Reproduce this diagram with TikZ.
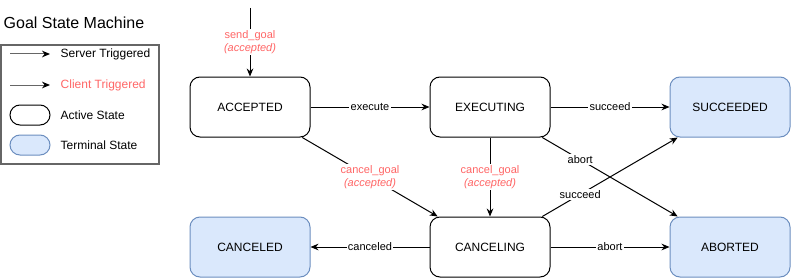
\documentclass[tikz,border=0pt]{standalone}
\usepackage{fontspec}
\setmainfont{Liberation Sans}
\usetikzlibrary{arrows.meta,positioning}

\begin{document}
\begin{tikzpicture}[x=0.75pt, y=-0.75pt]
		% Colores
		\definecolor{clientred}{RGB}{255, 102, 102} % Etiquetas del cliente
		\definecolor{termfill}{RGB}{218, 232, 252} % Relleno de estados terminales
		\definecolor{termborder}{RGB}{108, 142, 191} % Borde de estados terminales
		\definecolor{legendgray}{RGB}{102, 102, 102} % Marco de la leyenda
		
		\tikzset{
			state/.style={draw, rounded corners=7.5pt, minimum width=90pt, minimum height=45pt, line width=0.75pt, font=\fontsize{9}{11}\selectfont},
			terminal/.style={state, draw=termborder, fill=termfill},
			trans/.style={-{Stealth[length=6pt, width=5pt]}, line width=0.75pt},
			lbl/.style={fill=white, inner sep=1pt, font=\fontsize{8.25}{9.5}\selectfont},
			clientlbl/.style={lbl, text=clientred, align=center},
			legendtext/.style={anchor=west, font=\fontsize{9}{11}\selectfont},
			pill/.style={draw, rounded corners=7.5pt, minimum width=30pt, minimum height=15pt, line width=0.75pt}
		}
		
		% Marco de la imagen
		\useasboundingbox (0,0) rectangle (791,278);
		
		% --- Titulo ---
		\node[anchor=west, font=\fontsize{12}{14}\selectfont] (title) at (-1,23) {Goal State Machine};
		
		% --- Leyenda ---
		\draw[legendgray, line width=1.5pt] (1,45) rectangle (159,164);
		\coordinate (srvA) at (10,54);
		\coordinate (srvB) at (50,54);
		\coordinate (cliA) at (10,85);
		\coordinate (cliB) at (50,85);
		\draw[legendgray, line width=0.75pt, -{Stealth[length=6pt, width=5pt, black]}] (srvA) -- (srvB);
		\draw[legendgray, line width=0.75pt, -{Stealth[length=6pt, width=5pt, black]}] (cliA) -- (cliB);
		\node[legendtext] (srvtext) at (56,54) {Server Triggered};
		\node[legendtext, text=clientred] (clitext) at (56,85) {Client Triggered};
		\node[pill] (activekey) at (30,115) {};
		\node[pill, draw=termborder, fill=termfill] (termkey) at (30,145) {};
		\node[legendtext] (activetext) at (56,115) {Active State};
		\node[legendtext] (termtext) at (56,145) {Terminal State};
		
		% --- Estados ---
		\node[state] (accepted) at (250,107) {ACCEPTED};
		\node[state] (executing) at (490,107) {EXECUTING};
		\node[terminal] (succeeded) at (730,107) {SUCCEEDED};
		\node[terminal] (canceled) at (250,247) {CANCELED};
		\node[state] (canceling) at (490,247) {CANCELING};
		\node[terminal] (aborted) at (730,247) {ABORTED};
		
		% --- Transiciones ---
		\coordinate (start) at (250,8);
		\draw[trans] (start) -- (accepted) node[clientlbl, midway] {send\_goal\\\textit{(accepted)}};
		\draw[trans] (accepted) -- (executing) node[lbl, midway] {execute};
		\draw[trans] (executing) -- (succeeded) node[lbl, midway] {succeed};
		\draw[trans] (accepted) -- (canceling) node[clientlbl, midway] {cancel\_goal\\\textit{(accepted)}};
		\draw[trans] (executing) -- (canceling) node[clientlbl, midway] {cancel\_goal\\\textit{(accepted)}};
		\draw[trans] (executing) -- (aborted) node[lbl, pos=0.28] {abort};
		\draw[trans] (canceling) -- (succeeded) node[lbl, pos=0.28] {succeed};
		\draw[trans] (canceling) -- (canceled) node[lbl, midway] {canceled};
		\draw[trans] (canceling) -- (aborted) node[lbl, midway] {abort};
		
	\end{tikzpicture}
\end{document}
